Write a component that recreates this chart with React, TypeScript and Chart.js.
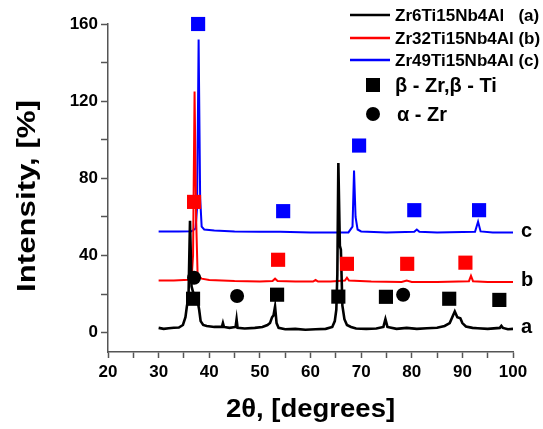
import { useEffect, useRef } from 'react';
import { Chart, registerables } from 'chart.js';

Chart.register(...registerables);

// ---------- data ----------
// Curve a: Zr6Ti15Nb4Al (black)
const xA = [30, 31, 32, 33, 34, 34.8, 35.3, 35.6, 35.9, 36.2, 36.5, 36.8, 37.2, 37.6, 38.0, 38.3, 38.8, 39.5, 41, 42.5, 42.7, 42.9, 44, 45.2, 45.4, 45.6, 47, 49, 50.5, 51.5, 52, 52.4, 52.7, 53.0, 53.3, 53.7, 55, 57, 59, 61, 63, 64.3, 64.8, 65.1, 65.3, 65.5, 65.8, 66.0, 66.3, 66.7, 67.2, 68, 69, 71, 73, 74.4, 74.8, 75.2, 77, 79, 81, 83, 85, 86.5, 87.5, 88, 88.5, 89, 89.6, 90, 90.7, 92, 93, 95, 97.4, 97.7, 98, 99, 100];
const yA = [2.5, 2.0, 2.3, 2.6, 2.7, 4, 8, 14, 18, 58, 24, 21, 20, 18, 12, 6, 4, 3.5, 3, 3, 5, 3, 2.5, 3, 7, 2.5, 2.2, 2.5, 3, 4, 5, 8, 9, 13.5, 5, 2.5, 1.8, 2, 1.5, 1.8, 2, 3, 6, 12, 30, 88, 45, 43, 14, 7, 4, 3, 2.2, 2, 2.2, 3, 7, 3, 2, 2.5, 2, 2.3, 2.6, 3.5, 5, 8, 11, 8, 7.5, 5, 3.2, 2.5, 2.3, 2, 2.5, 3.5, 2.5, 1.8, 2];

// Curve b: Zr32Ti15Nb4Al (red)
const xB = [30, 33, 35, 36.5, 36.8, 37.1, 37.4, 37.7, 38.5, 40, 45, 50, 52.5, 53, 53.5, 57, 60.5, 61, 61.5, 64, 66.8, 67.2, 67.6, 72, 78, 79, 80, 85, 91.3, 91.7, 92.1, 95, 100];
const yB = [27, 27, 27.3, 27.5, 40, 125, 60, 30, 28, 27.3, 26.8, 26.6, 26.8, 28, 26.8, 26.5, 26.5, 27.3, 26.5, 26.5, 27, 28.5, 27, 26.5, 26.3, 27, 26.3, 26.3, 26.7, 29.5, 26.7, 26.3, 26.3];

// Curve c: Zr49Ti15Nb4Al (blue)
const xC = [30, 34, 36.5, 37.3, 37.6, 37.9, 38.2, 38.5, 39, 41, 45, 50, 54, 60, 65, 67.5, 68.3, 68.6, 68.9, 69.3, 70, 75, 80.5, 81, 81.5, 85, 92.5, 93.1, 93.6, 96, 100];
const yC = [52.5, 52.5, 52.6, 54, 65, 152, 70, 55, 53.5, 53, 52.5, 52.3, 52.3, 52, 52, 52, 55, 84, 60, 53.5, 52.5, 52, 52.3, 53.5, 52.3, 52, 52.3, 57.5, 52.5, 52, 52];

// Phase markers
const blueSqX = [37.8, 54.6, 69.6, 80.5, 93.3];
const blueSqY = [160, 63, 97, 63.5, 63.5];
const redSqX = [37.0, 53.6, 67.2, 79.1, 90.6];
const redSqY = [67.8, 37.8, 35.7, 35.7, 36.3];
const blackSqX = [36.8, 53.4, 65.5, 74.9, 87.4, 97.3];
const blackSqY = [17.6, 19.7, 18.7, 18.6, 17.6, 17];
const circX = [37.0, 45.5, 78.3];
const circY = [28.5, 19, 19.7];

// Labels & ticks
const seriesNames = ['Zr6Ti15Nb4Al   (a)', 'Zr32Ti15Nb4Al (b)', 'Zr49Ti15Nb4Al (c)'];
const seriesColors = ['#000000', '#ff0000', '#0000ff'];
const curveLetters = ['a', 'b', 'c'];
const phaseNames = ['\u03b2 - Zr,\u03b2 - Ti', '\u03b1 - Zr'];
const xTickValues = [20, 25, 30, 35, 40, 45, 50, 55, 60, 65, 70, 75, 80, 85, 90, 95, 100];
const yTickValues = [0, 20, 40, 60, 80, 100, 120, 140, 160];
const xTitle = '2\u03b8, [degrees]';
const yTitle = 'Intensity, [%]';

const FONT = "'Liberation Sans', Arial, sans-serif";

const zip = (xs: number[], ys: number[]) => xs.map((x, i) => ({ x, y: ys[i] }));

const overlayPlugin = {
  id: 'overlay',
  afterDraw(chart: any) {
    const { ctx, chartArea, scales } = chart;
    const yS = scales.y;
    ctx.save();
    // axis titles
    ctx.fillStyle = '#000';
    ctx.textAlign = 'center';
    ctx.textBaseline = 'middle';
    ctx.save();
    ctx.translate((chartArea.left + chartArea.right) / 2, 410);
    ctx.scale(1.1, 1);
    ctx.font = `bold 25px ${FONT}`;
    ctx.fillText(xTitle, 0, 0);
    ctx.restore();
    ctx.save();
    ctx.translate(28, 196);
    ctx.rotate(-Math.PI / 2);
    ctx.scale(1.2, 1);
    ctx.font = `bold 26px ${FONT}`;
    ctx.fillText(yTitle, 0, 0);
    ctx.restore();
    // curve letters at right end
    const lastYs = [yA[yA.length - 1], yB[yB.length - 1], yC[yC.length - 1]];
    ctx.font = `bold 20px ${FONT}`;
    ctx.textAlign = 'left';
    curveLetters.forEach((l, i) => {
      ctx.fillText(l, chartArea.right + 8, yS.getPixelForValue(lastYs[i]) - 1);
    });
    // legend
    const lx1 = 350, lx2 = 390, tx = 395;
    const rows = [15, 38, 60];
    ctx.font = `bold 17px ${FONT}`;
    seriesNames.forEach((n, i) => {
      ctx.strokeStyle = seriesColors[i];
      ctx.lineWidth = 2.5;
      ctx.beginPath();
      ctx.moveTo(lx1, rows[i]);
      ctx.lineTo(lx2, rows[i]);
      ctx.stroke();
      ctx.fillStyle = '#000';
      ctx.fillText(n, tx, rows[i] + 1);
    });
    ctx.fillStyle = '#000';
    ctx.fillRect(366, 78, 14, 14);
    ctx.beginPath();
    ctx.arc(373, 114, 7, 0, Math.PI * 2);
    ctx.fill();
    ctx.font = `bold 20px ${FONT}`;
    ctx.fillText(phaseNames[0], 395, 86);
    ctx.fillText(phaseNames[1], 397, 115);
    ctx.restore();
  },
};

export default function App() {
  const ref = useRef<HTMLCanvasElement | null>(null);
  useEffect(() => {
    document.body.style.margin = '0';
    const canvas = ref.current;
    if (!canvas) return;
    const lineDs = (label: string, xs: number[], ys: number[], color: string, order: number, w: number) => ({
      type: 'scatter' as const,
      label,
      data: zip(xs, ys),
      showLine: true,
      borderColor: color,
      backgroundColor: color,
      borderWidth: w,
      pointRadius: 0,
      tension: 0,
      order,
    });
    const markDs = (label: string, xs: number[], ys: number[], color: string, style: string, r: number) => ({
      type: 'scatter' as const,
      label,
      data: zip(xs, ys),
      showLine: false,
      pointStyle: style,
      pointRadius: r,
      backgroundColor: color,
      borderColor: color,
      borderWidth: 0,
      clip: false,
      order: 0,
    });
    const chart = new Chart(canvas, {
      type: 'scatter',
      data: {
        datasets: [
          lineDs(seriesNames[2], xC, yC, seriesColors[2], 3, 2),
          lineDs(seriesNames[1], xB, yB, seriesColors[1], 2, 2),
          lineDs(seriesNames[0], xA, yA, seriesColors[0], 1, 2.6),
          markDs('blue sq', blueSqX, blueSqY, '#0000ff', 'rect', 10),
          markDs('red sq', redSqX, redSqY, '#ff0000', 'rect', 10),
          markDs('black sq', blackSqX, blackSqY, '#000000', 'rect', 10),
          markDs('circ', circX, circY, '#000000', 'circle', 7),
        ] as any,
      },
      options: {
        responsive: false,
        animation: false,
        events: [],
        layout: { padding: { top: 24, right: 30, left: 0, bottom: 0 } },
        plugins: { legend: { display: false }, tooltip: { enabled: false } },
        scales: {
          x: {
            type: 'linear',
            min: 20,
            max: 100,
            afterBuildTicks: (s: any) => {
              s.ticks = xTickValues.map((v) => ({ value: v }));
            },
            afterFit: (s: any) => {
              s.height = 77;
            },
            ticks: {
              autoSkip: false,
              maxRotation: 0,
              padding: 4,
              color: '#000',
              font: { family: FONT, size: 17, weight: 'bold' },
              callback: (v: any) => (Number(v) % 10 === 0 ? String(v) : ''),
            },
            grid: { drawOnChartArea: false, drawTicks: true, tickLength: 6, color: '#555', tickWidth: 1.5 },
            border: { display: true, color: '#555', width: 1.5 },
          },
          y: {
            type: 'linear',
            min: -10,
            max: 160,
            afterBuildTicks: (s: any) => {
              s.ticks = yTickValues.map((v) => ({ value: v }));
            },
            afterFit: (s: any) => {
              s.width = 108;
            },
            ticks: {
              padding: 3,
              color: '#000',
              font: { family: FONT, size: 17, weight: 'bold' },
              callback: (v: any) => (Number(v) % 40 === 0 ? String(v) : ''),
            },
            grid: { drawOnChartArea: false, drawTicks: true, tickLength: 7, color: '#555', tickWidth: 1.5 },
            border: { display: true, color: '#555', width: 1.5 },
          },
        },
      } as any,
      plugins: [overlayPlugin],
    });
    return () => chart.destroy();
  }, []);
  return (
    <div style={{ width: 543, height: 429 }}>
      <canvas ref={ref} width={543} height={429} />
    </div>
  );
}
